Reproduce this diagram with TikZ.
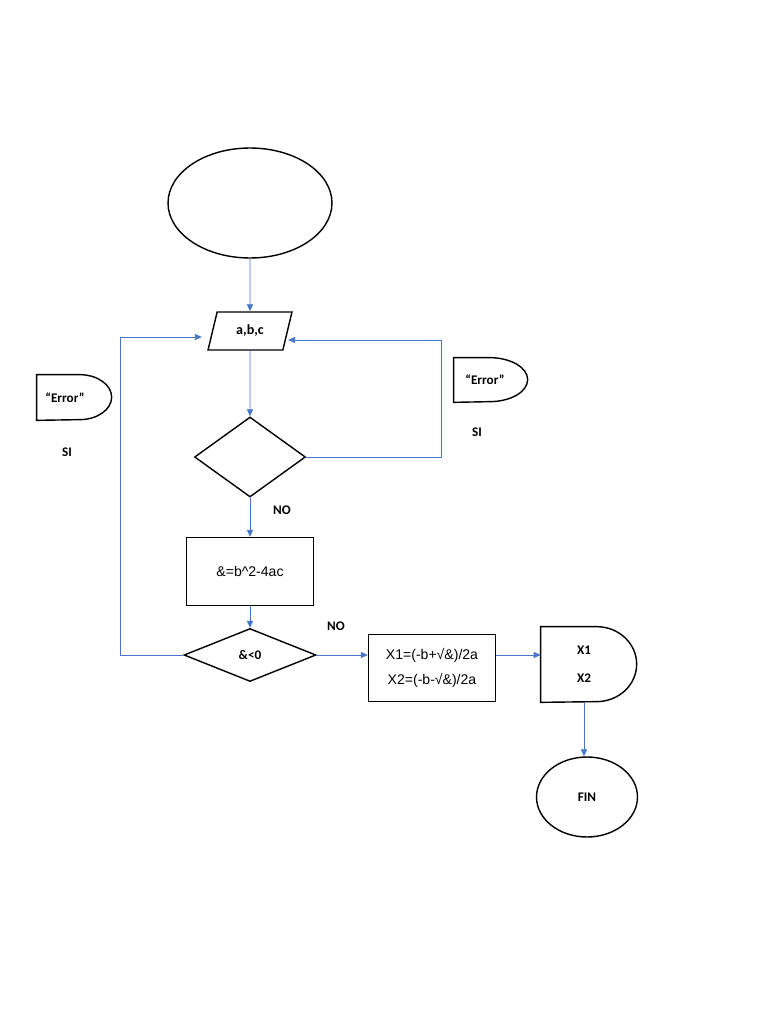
\documentclass[tikz,border=0pt]{standalone}
\usepackage{fontspec}
\setmainfont{Liberation Sans}
\newfontfamily\calib{Carlito}
\usetikzlibrary{shapes.geometric,arrows.meta}
\definecolor{flowblue}{RGB}{72,118,200}

\begin{document}
\begin{tikzpicture}[x=0.02cm,y=-0.02cm,
		box/.style={draw,line width=0.8pt,inner sep=0pt},
		flow/.style={draw=flowblue,line width=0.5pt,-{Triangle[length=4pt,width=3.5pt]}},
		tag/.style={font=\calib\bfseries\fontsize{7.5}{9}\selectfont},
		txt/.style={font=\fontsize{8}{9.6}\selectfont}]
			\useasboundingbox (0,0) rectangle (768,1024);
			\node[box,ellipse,minimum width=32.8mm,minimum height=22mm] (start) at (250,203) {};
			\node[box,trapezium,trapezium left angle=72,trapezium right angle=108,trapezium stretches,minimum width=16.8mm,minimum height=7.6mm,tag,font=\calib\bfseries\fontsize{8}{9}\selectfont] (abc) at (250,331) {a,b,c};
			\node[box,diamond,minimum width=22.2mm,minimum height=16mm] (chk) at (250,457) {};
			\node[box,minimum width=25.4mm,minimum height=13.6mm,txt] (disc) at (250,571.5) {\&=b\textasciicircum 2-4ac};
			\node[box,diamond,minimum width=26.4mm,minimum height=10.6mm,tag] (neg) at (250,655) {\&<0};
			\node[box,minimum width=25.4mm,minimum height=13.4mm,txt,align=center] (roots) at (432,668) {X1=(-b+√\&)/2a\\[5pt]X2=(-b-√\&)/2a};
			\node[inner sep=0pt,minimum width=17.2mm,minimum height=15mm,tag,align=center] (res) at (584,664.5) {X1\\[7pt]X2};
			\draw[line width=0.8pt] (res.north west) -- ++(56,0) arc[start angle=90,end angle=-90,x radius=8mm,y radius=7.5mm] -- (res.south west) -- cycle;
			\node[box,ellipse,minimum width=20.2mm,minimum height=16mm,tag] (fin) at (587,797) {FIN};
			% error outputs
			\node[inner sep=0pt,minimum width=11.2mm,minimum height=9mm,tag] (errL) at (65,397.5) {“Error”};
			\draw[line width=0.8pt] (errL.north west) -- ++(43,0) arc[start angle=90,end angle=-90,x radius=6.4mm,y radius=4.5mm] -- (errL.south west) -- cycle;
			\node[inner sep=0pt,minimum width=12.4mm,minimum height=8.8mm,tag] (errR) at (485,380) {“Error”};
			\draw[line width=0.8pt] (errR.north west) -- ++(36,0) arc[start angle=90,end angle=-90,x radius=7.6mm,y radius=4.4mm] -- (errR.south west) -- cycle;
			\node[tag] (siL) at (67,452) {SI};
			\node[tag] (siR) at (477,432) {SI};
			\node[tag] (noA) at (282,510) {NO};
			\node[tag] (noB) at (336,626) {NO};
			% connectors
			\coordinate (loopR) at (441,340);
			\coordinate (loopL) at (120,337);
			\draw[flow] (start) -- (abc);
			\draw[flow] (abc) -- (chk);
			\draw[flow] (chk) -- (disc);
			\draw[flow] (disc) -- (neg);
			\draw[flow] (neg) -- (roots.west |- neg);
			\draw[flow] (roots.east |- neg) -- (res.west |- neg);
			\draw[flow] (res.south) -- (res.south |- fin.north);
			\draw[flow] (chk.east) -| (loopR) -- (abc.east |- loopR);
			\draw[flow] (neg.west) -| (loopL) -- ([xshift=-2mm]abc.west |- loopL);
		\end{tikzpicture}
\end{document}
